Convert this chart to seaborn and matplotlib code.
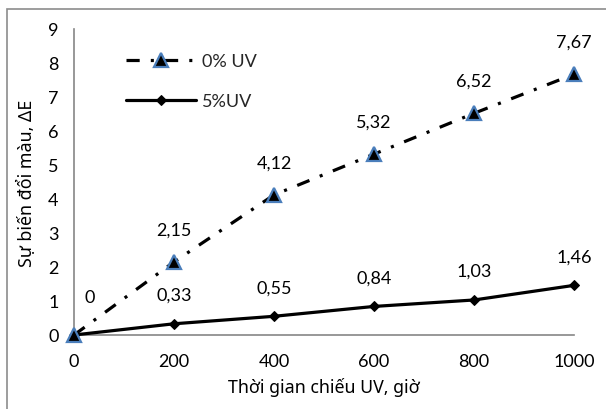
import matplotlib
matplotlib.use("Agg")
import matplotlib.pyplot as plt
from matplotlib.patches import Rectangle
import seaborn as sns
import pandas as pd

hours = [0, 200, 400, 600, 800, 1000]
uv0 = [0, 2.15, 4.12, 5.32, 6.52, 7.67]
uv5 = [0, 0.33, 0.55, 0.84, 1.03, 1.46]
series_names = ["0% UV", "5%UV"]
x_label = "Thời gian chiếu UV, giờ"
y_label = "Sự biến đổi màu, ΔE"
x_ticks = [0, 200, 400, 600, 800, 1000]
y_ticks = list(range(0, 10))

sns.set_theme(style="white")
plt.rcParams['font.family'] = ['Lato', 'Noto Sans', 'DejaVu Sans']
plt.rcParams['lines.scale_dashes'] = False

FS = 13
LFS = 12.8
GRAY = '#868686'
LABEL_FONT = ['Noto Sans', 'DejaVu Sans']

fig = plt.figure(figsize=(6.06, 4.10), dpi=100)
ax = fig.add_axes([74/606, 74/410, 500/606, 306/410])

df = pd.DataFrame({"hours": hours, "uv0": uv0, "uv5": uv5})

sns.lineplot(data=df, x="hours", y="uv5", ax=ax, color='black', lw=2.3,
             marker='D', markersize=5.5, markerfacecolor='black', markeredgecolor='black',
             label=series_names[1], clip_on=False, zorder=3)
sns.lineplot(data=df, x="hours", y="uv0", ax=ax, color='black', lw=2.3,
             linestyle=(0, (9.5, 8.0, 2.2, 8.0)),
             marker='^', markersize=10, markerfacecolor='black', markeredgecolor='#4A7EBB',
             markeredgewidth=1.6, label=series_names[0], clip_on=False, zorder=4)

def fmt(v):
    return "0" if v == 0 else f"{v:.2f}".replace('.', ',')

for xv, yv in zip(hours, uv0):
    if yv == 0:
        ax.annotate(fmt(yv), (xv, yv), xytext=(11.5, 27.5), textcoords='offset points',
                    ha='center', va='center', fontsize=FS, color='black')
    else:
        ax.annotate(fmt(yv), (xv, yv), xytext=(0, 23.5), textcoords='offset points',
                    ha='center', va='center', fontsize=FS, color='black')
for xv, yv in zip(hours, uv5):
    if yv == 0:
        continue
    ax.annotate(fmt(yv), (xv, yv), xytext=(0, 21), textcoords='offset points',
                ha='center', va='center', fontsize=FS, color='black')

ax.set_xlim(0, 1000)
ax.set_ylim(0, 9)
ax.set_xticks(x_ticks)
ax.set_yticks(y_ticks)
ax.set_xticklabels([str(t) for t in x_ticks], fontsize=FS)
ax.set_yticklabels([str(t) for t in y_ticks], fontsize=FS)
ax.tick_params(axis='both', direction='out', length=5, width=1.2, color=GRAY,
               labelcolor='black', pad=6)
ax.tick_params(axis='x', pad=8)
for s in ['top', 'right']:
    ax.spines[s].set_visible(False)
for s in ['left', 'bottom']:
    ax.spines[s].set_color(GRAY)
    ax.spines[s].set_linewidth(1.2)

ax.set_xlabel(x_label, fontsize=LFS, color='black', labelpad=6, family=LABEL_FONT)
ax.set_ylabel(y_label, fontsize=LFS, color='black', labelpad=9, family=LABEL_FONT)

handles, labels = ax.get_legend_handles_labels()
order = [labels.index(n) for n in series_names]
leg = ax.legend([handles[i] for i in order], [labels[i] for i in order],
                loc='upper left', bbox_to_anchor=(126/606, 1 - 54/410),
                bbox_transform=fig.transFigure, frameon=False, fontsize=FS,
                handlelength=3.9, handletextpad=0.3, labelspacing=1.35,
                borderpad=0, borderaxespad=0)

fig.patches.append(Rectangle((6.5/606, -0.1), 1.2, 1.1 - 10/410, transform=fig.transFigure,
                             fill=False, edgecolor='#8C8C8C', lw=1.2))

fig.savefig("out.png", dpi=100)
